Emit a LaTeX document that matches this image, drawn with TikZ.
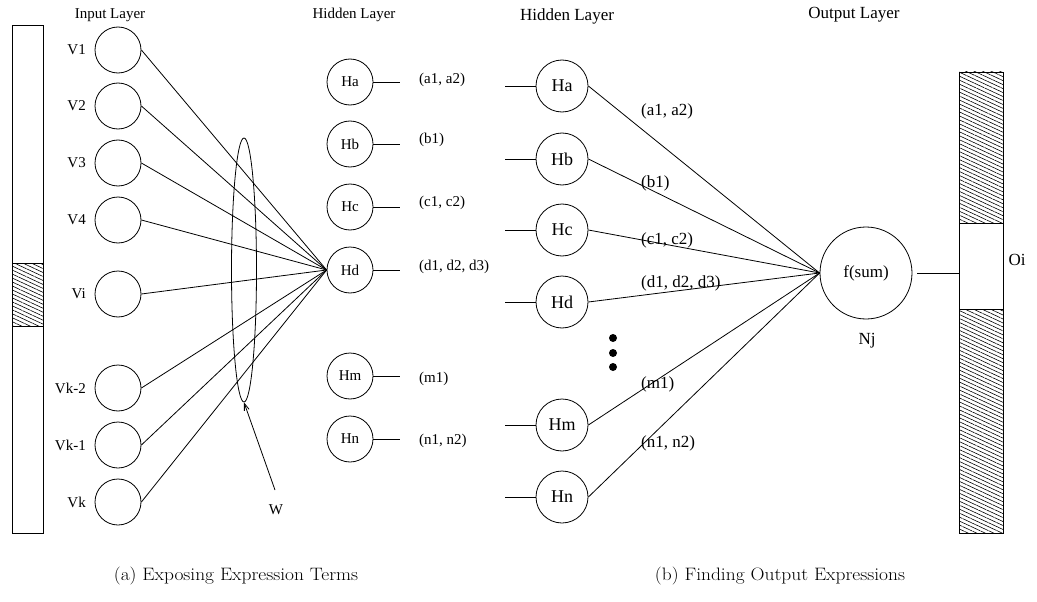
\documentclass[tikz,border=0pt]{standalone}
\usepackage{fontspec}
\newfontfamily\tms{Liberation Serif}
\usetikzlibrary{arrows.meta,patterns.meta,shapes.geometric}
\tikzset{
  unit/.style={draw, circle, line width=0.8pt, inner sep=0pt, minimum size=46pt,
    font=\tms\fontsize{15}{18}\selectfont},
  bigunit/.style={unit, minimum size=52pt, font=\tms\fontsize{18}{21}\selectfont},
  txt/.style={font=\tms\fontsize{15}{18}\selectfont, inner sep=0pt},
  bigtxt/.style={font=\tms\fontsize{17}{20}\selectfont, inner sep=0pt},
  wire/.style={line width=0.8pt},
  hatch/.style={pattern={Lines[angle=-25,distance=3.6pt,line width=0.6pt]}},
  caption/.style={font=\fontsize{18}{21}\selectfont, inner sep=0pt}
}
\newcommand{\captext}[1]{\scalebox{1.08}[1]{#1}}
\begin{document}
\begin{tikzpicture}[x=1pt,y=-1pt]
\useasboundingbox (0,0) rectangle (1037,602);

% ---------- (a) input layer ----------
\node[txt] (inTitle) at (110,15) {Input Layer};
\draw[wire] (12,25) rectangle (43,533);
\fill[hatch] (12,263) rectangle (43,326);
\draw[wire] (12,263) rectangle (43,326);

\foreach \n/\y/\t in {V1/50/V1, V2/106/V2, V3/163/V3, V4/220/V4, Vi/294/Vi,
                      Vk2/388/Vk-2, Vk1/445/Vk-1, Vk/502/Vk}{
  \node[unit] (\n) at (118,\y) {};
  \node[txt, anchor=east] (\n lab) at (86,\y) {\t};
}

% ---------- (a) hidden layer ----------
\node[txt] (hidTitleA) at (354,15) {Hidden Layer};
\foreach \n/\y/\w/\ly in {Ha/82/{(a1, a2)}/80, Hb/144/{(b1)}/140,
    Hc/207/{(c1, c2)}/203, Hd/270/{(d1, d2, d3)}/267,
    Hm/376/{(m1)}/379, Hn/439/{(n1, n2)}/441}{
  \node[unit] (L\n) at (350,\y) {\n};
  \draw[wire] (L\n.east) -- ++(27,0);
  \node[txt, anchor=west] (L\n w) at (419,\ly) {\w};
}

\foreach \n in {V1,V2,V3,V4,Vi,Vk2,Vk1,Vk}{
  \draw[wire] (\n.east) -- (LHd.west);
}

% weight group
\node[draw, ellipse, line width=0.8pt, inner sep=0pt,
      minimum width=25pt, minimum height=264pt] (ring) at (244,270) {};
\node[txt] (wlab) at (276,510) {W};
\draw[wire, -{Straight Barb[length=7pt,width=5pt]}] (275,490) -- (ring.south);

% ---------- (b) hidden layer ----------
\node[bigtxt] (hidTitleB) at (567,16) {Hidden Layer};
\foreach \n/\y in {Ha/86, Hb/159, Hc/230, Hd/302, Hm/425, Hn/497}{
  \node[bigunit] (R\n) at (562,\y) {\n};
  \draw[wire] (R\n.west) -- ++(-31,0);
}
\foreach \y in {338,353,367}{
  \fill (613,\y) circle[radius=4pt];
}

% ---------- (b) output layer ----------
\node[bigtxt] (outTitle) at (854,15) {Output Layer};
\node[draw, circle, line width=0.8pt, inner sep=0pt, minimum size=92pt,
      font=\tms\fontsize{17}{20}\selectfont] (F) at (866,273) {f(sum)};
\node[bigtxt] (nj) at (867,341) {Nj};

\foreach \n in {Ha,Hb,Hc,Hd,Hm,Hn}{
  \draw[wire] (R\n.east) -- (F.west);
}

\foreach \w/\y in {{(a1, a2)}/111, {(b1)}/183, {(c1, c2)}/240,
                   {(d1, d2, d3)}/283, {(m1)}/384, {(n1, n2)}/443}{
  \node[bigtxt, anchor=west] at (641,\y) {\w};
}

% output bar
\fill[hatch] (959,72) rectangle (1003,223);
\fill[hatch] (959,309) rectangle (1003,533);
\draw[wire] (959,72) rectangle (1003,533);
\draw[wire] (959,223) -- (1003,223);
\draw[wire] (959,309) -- (1003,309);
\coordinate (barIn) at (959,273);
\draw[wire, shorten <=5pt] (F.east) -- (barIn);
\node[bigtxt] (oi) at (1017,260) {Oi};

% ---------- captions ----------
\node[caption] (capA) at (236,576) {\captext{(a) Exposing Expression Terms}};
\node[caption] (capB) at (780,576) {\captext{(b) Finding Output Expressions}};
\end{tikzpicture}
\end{document}
